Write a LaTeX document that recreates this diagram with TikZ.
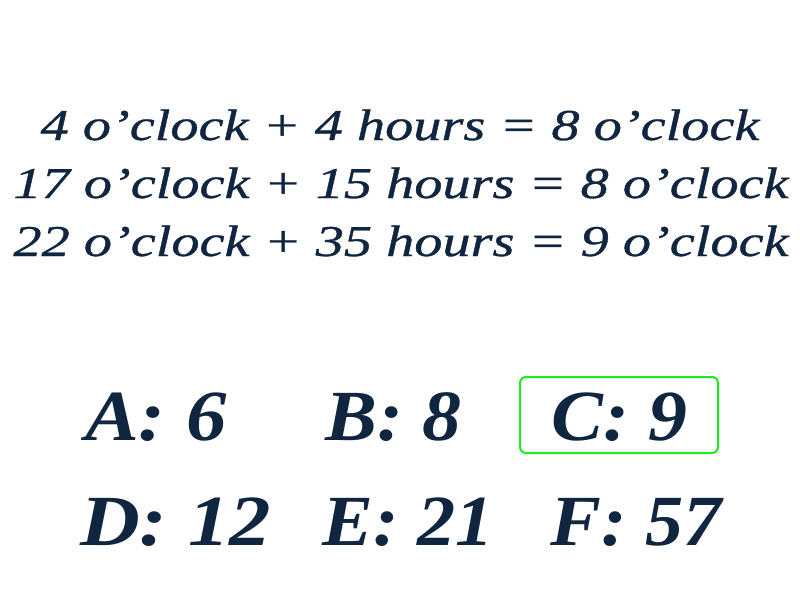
\documentclass[tikz,border=0pt]{standalone}
\usepackage{fontspec}
\newfontfamily\eqfont[ItalicFeatures={FakeBold=0.7}]{Liberation Serif}
\newfontfamily\ansfont{Liberation Serif}
\definecolor{ink}{RGB}{16,38,64}
\definecolor{boxgreen}{RGB}{30,235,30}
\newcommand{\widen}[2]{\scalebox{#1}[1]{#2}}
\begin{document}
\begin{tikzpicture}[x=1pt,y=-1pt,
  eqline/.style={anchor=base,inner sep=0pt,text=ink,font=\fontsize{44}{48}\eqfont\itshape},
  answer/.style={anchor=base west,inner sep=0pt,text=ink,font=\fontsize{72}{76}\ansfont\bfseries\itshape},
  answerbox/.style={draw=boxgreen,line width=2pt,rounded corners=6pt}]
\useasboundingbox (0,0) rectangle (800,600);
\node[eqline] (l1) at (400,140) {\widen{1.28}{4 o’clock + 4 hours = 8 o’clock}};
\node[eqline] (l2) at (401,198) {\widen{1.28}{17 o’clock + 15 hours = 8 o’clock}};
\node[eqline] (l3) at (401,256) {\widen{1.28}{22 o’clock + 35 hours = 9 o’clock}};
\node[answer] (a) at (85,440) {\widen{1.12}{A: 6}};
\node[answer] (b) at (325,440) {\widen{1.08}{B: 8}};
\node[answer] (c) at (551,440) {\widen{1.08}{C: 9}};
\node[answer] (d) at (80,545) {\widen{1.15}{D: 12}};
\node[answer] (e) at (322,545) {\widen{1.06}{E: 21}};
\node[answer] (f) at (550,545) {\widen{1.06}{F: 57}};
\draw[answerbox] (520,377) rectangle (718,453);
\end{tikzpicture}
\end{document}
